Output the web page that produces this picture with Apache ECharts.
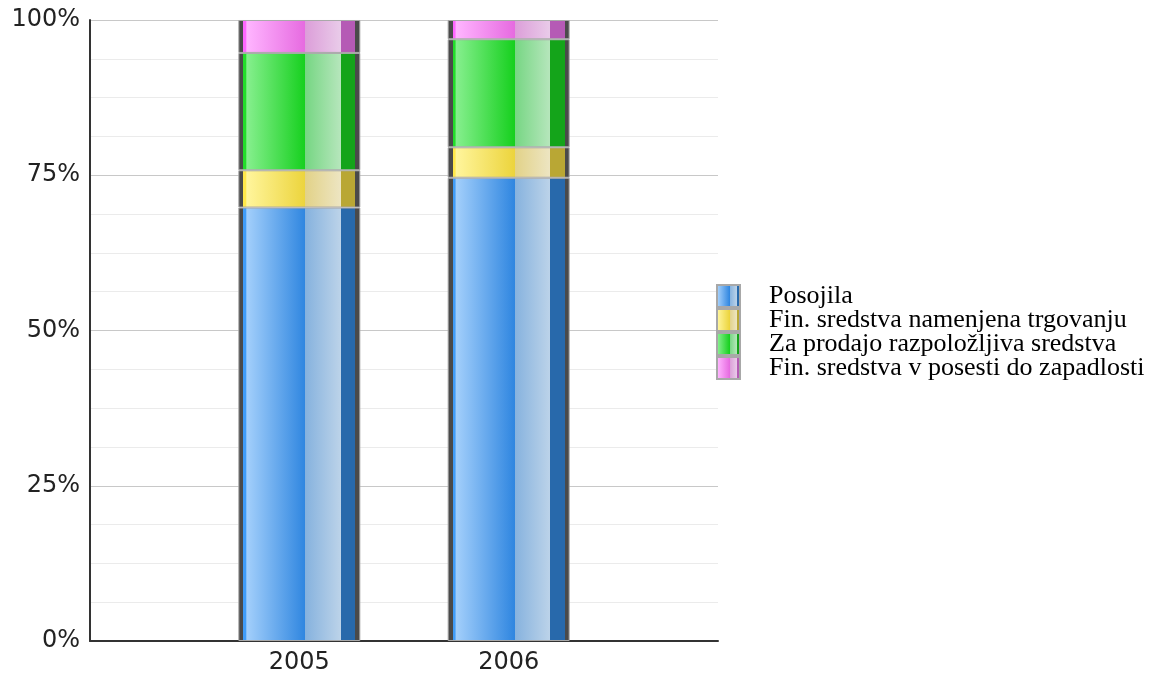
<!DOCTYPE html>
<html>
<head>
<meta charset="utf-8">
<script src="https://cdn.jsdelivr.net/npm/echarts@6/dist/echarts.min.js"></script>
<style>
  html, body { margin: 0; padding: 0; background: #fff; }
  #chart { width: 1159px; height: 675px; }
</style>
</head>
<body>
<div id="chart"></div>
<script>
// data
const years = ['2005', '2006'];
const seriesNames = [
  'Posojila',
  'Fin. sredstva namenjena trgovanju',
  'Za prodajo razpoložljiva sredstva',
  'Fin. sredstva v posesti do zapadlosti'
];
const posojila = [69.8, 74.6];
const trgovanje = [6.0, 4.9];
const prodaja = [18.9, 17.4];
const zapadlost = [5.3, 3.1];
const yTicks = [0, 25, 50, 75, 100];

// the axis has an empty slot at each end, bars sit on the inner ticks
const categories = ['', ...years, ''];
const pad = vals => [null, ...vals, null];

// "cylinder" look: gray edge, bright gradient, pale overlay, dark side
function cyl(p) {
  return new echarts.graphic.LinearGradient(0, 0, 1, 0, [
    { offset: 0, color: '#4a4a4a' },
    { offset: 0.04, color: '#4a4a4a' },
    { offset: 0.04, color: p.edge },
    { offset: 0.06, color: p.edge },
    { offset: 0.07, color: p.light },
    { offset: 0.55, color: p.base },
    { offset: 0.55, color: p.pale1 },
    { offset: 0.84, color: p.pale2 },
    { offset: 0.84, color: p.dark },
    { offset: 0.96, color: p.dark },
    { offset: 0.96, color: '#4a4a4a' },
    { offset: 1, color: '#4a4a4a' }
  ]);
}

const palettes = [
  { edge: '#3f9cf8', light: '#a3cffb', base: '#2f86e0', pale1: '#86b2de', pale2: '#bcd3e9', dark: '#2869ab' },
  { edge: '#ffe84a', light: '#fff59c', base: '#ecd43c', pale1: '#e2d288', pale2: '#ede5c2', dark: '#b9a734' },
  { edge: '#22dd2a', light: '#86ef8e', base: '#16d01e', pale1: '#76d683', pale2: '#b6e6bc', dark: '#14a41a' },
  { edge: '#ff66ff', light: '#ffb5ff', base: '#e66ae0', pale1: '#dc9ed9', pale2: '#e9cbe9', dark: '#b55ab5' }
];

const valueSets = [posojila, trgovanje, prodaja, zapadlost];

const chart = echarts.init(document.getElementById('chart'), null, { renderer: 'canvas' });

chart.setOption({
  animation: false,
  grid: { left: 90, top: 20, width: 628, height: 623, containLabel: false },
  legend: {
    orient: 'vertical',
    left: 716,
    top: 283,
    padding: 0,
    itemWidth: 23,
    itemHeight: 22,
    itemGap: -2,
    icon: 'rect',
    data: seriesNames,
    textStyle: {
      fontFamily: '"Liberation Serif", "Times New Roman", serif',
      fontSize: 26,
      color: '#000',
      padding: [0, 0, 0, 24]
    }
  },
  xAxis: {
    type: 'category',
    data: categories,
    boundaryGap: false,
    axisLine: { show: true, lineStyle: { color: '#333', width: 2 } },
    axisTick: { show: false },
    splitLine: { show: false },
    axisLabel: {
      interval: 0,
      margin: 10,
      fontFamily: '"DejaVu Sans", Verdana, sans-serif',
      fontSize: 24,
      color: '#222'
    }
  },
  yAxis: {
    type: 'value',
    min: yTicks[0],
    max: yTicks[yTicks.length - 1],
    interval: 25,
    axisLine: { show: true, lineStyle: { color: '#333', width: 2 } },
    axisTick: { show: false },
    axisLabel: {
      margin: 10,
      fontFamily: '"DejaVu Sans", Verdana, sans-serif',
      fontSize: 24,
      color: '#222',
      formatter: '{value}%'
    },
    splitLine: { show: true, lineStyle: { color: '#c8c8c8', width: 1 } },
    minorTick: { show: false, splitNumber: 4 },
    minorSplitLine: { show: true, lineStyle: { color: '#ebebeb', width: 1 } }
  },
  series: valueSets.map((vals, i) => ({
    name: seriesNames[i],
    type: 'bar',
    stack: 'total',
    barWidth: 122,
    data: pad(vals),
    itemStyle: {
      color: cyl(palettes[i]),
      borderColor: '#a8a8a8',
      borderWidth: 1
    }
  }))
});
</script>
</body>
</html>
